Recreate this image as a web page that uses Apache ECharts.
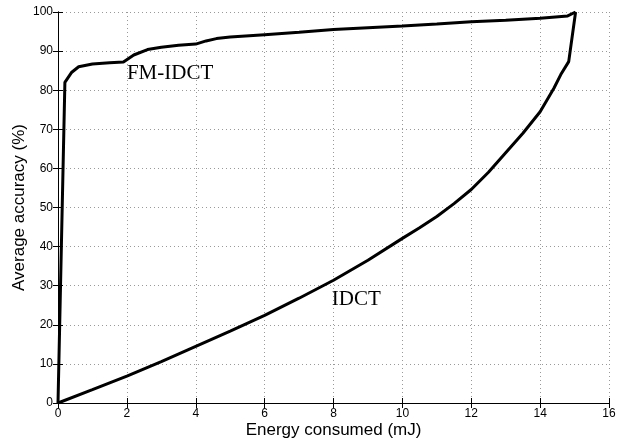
<!DOCTYPE html>
<html>
<head>
<meta charset="utf-8">
<script src="https://cdn.jsdelivr.net/npm/echarts@6/dist/echarts.min.js"></script>
<style>
  html, body { margin: 0; padding: 0; background: #fff; }
  #chart { width: 621px; height: 440px; }
</style>
</head>
<body>
<div id="chart"></div>
<script>
// values: [energy mJ, accuracy %]
var fmIdct = [
  [0, 0], [0.2, 82], [0.4, 84.6], [0.6, 86], [1, 86.7], [1.5, 87], [1.9, 87.2],
  [2.2, 89], [2.6, 90.4], [3, 91], [3.5, 91.5], [4, 91.8], [4.3, 92.6], [4.6, 93.2],
  [5, 93.6], [6, 94.2], [7, 94.8], [8, 95.5], [9, 96], [10, 96.4],
  [11, 96.9], [12, 97.5], [13, 97.9], [14, 98.4], [14.8, 99], [15.03, 100]
];
var idct = [
  [0, 0], [1, 3.4], [2, 6.9], [3, 10.6], [4, 14.5], [5, 18.4], [6, 22.4],
  [7, 26.8], [8, 31.4], [9, 36.5], [10, 42.1], [10.5, 44.8], [11, 47.7],
  [11.5, 51], [12, 54.6], [12.5, 59], [13, 64], [13.5, 69], [14, 74.5],
  [14.2, 77.5], [14.4, 80.5], [14.6, 84], [14.83, 87.3], [15.03, 100]
];
var xTicks = { min: 0, max: 16, interval: 2 };
var yTicks = { min: 0, max: 100, interval: 10 };

var myChart = echarts.init(document.getElementById('chart'));

var gridLine = { show: true, lineStyle: { color: '#999', type: [1, 3], width: 1 } };
var boxLine = { show: true, lineStyle: { color: '#000', width: 1 } };
var tick = { show: true, inside: true, length: 5, lineStyle: { color: '#000' } };
var tickLabel = { color: '#000', fontFamily: 'Liberation Sans', fontSize: 12 };

myChart.setOption({
  animation: false,
  grid: { left: 58, right: 12, top: 12, bottom: 37, outerBoundsMode: 'none' },
  xAxis: [{
    type: 'value', min: xTicks.min, max: xTicks.max, interval: xTicks.interval,
    name: 'Energy consumed (mJ)', nameLocation: 'middle', nameGap: 19, nameMoveOverlap: false,
    nameTextStyle: { color: '#000', fontFamily: 'Liberation Sans', fontSize: 17 },
    axisLine: boxLine, axisTick: tick, splitLine: gridLine,
    axisLabel: Object.assign({ margin: 5 }, tickLabel)
  }, {
    type: 'value', position: 'top', min: xTicks.min, max: xTicks.max, interval: xTicks.interval,
    axisLine: boxLine, axisTick: tick, axisLabel: { show: false }, splitLine: { show: false }
  }],
  yAxis: [{
    type: 'value', min: yTicks.min, max: yTicks.max, interval: yTicks.interval,
    name: 'Average accuracy (%)', nameLocation: 'middle', nameGap: 30, nameMoveOverlap: false,
    nameTextStyle: { color: '#000', fontFamily: 'Liberation Sans', fontSize: 17 },
    axisLine: boxLine, axisTick: tick, splitLine: gridLine,
    axisLabel: Object.assign({ margin: 5 }, tickLabel)
  }, {
    type: 'value', position: 'right', min: yTicks.min, max: yTicks.max, interval: yTicks.interval,
    axisLine: boxLine, axisTick: tick, axisLabel: { show: false }, splitLine: { show: false }
  }],
  series: [{
    name: 'FM-IDCT', type: 'line', data: fmIdct, showSymbol: false,
    lineStyle: { color: '#000', width: 3 },
    markPoint: {
      symbol: 'circle', symbolSize: 0,
      label: { show: true, position: 'right', distance: 0, formatter: 'FM-IDCT',
        color: '#000', fontFamily: 'Liberation Serif', fontSize: 21 },
      data: [{ coord: [2.0, 84.4] }]
    }
  }, {
    name: 'IDCT', type: 'line', data: idct, showSymbol: false,
    lineStyle: { color: '#000', width: 3 },
    markPoint: {
      symbol: 'circle', symbolSize: 0,
      label: { show: true, position: 'right', distance: 0, formatter: 'IDCT',
        color: '#000', fontFamily: 'Liberation Serif', fontSize: 21 },
      data: [{ coord: [7.95, 26.5] }]
    }
  }]
});
</script>
</body>
</html>
